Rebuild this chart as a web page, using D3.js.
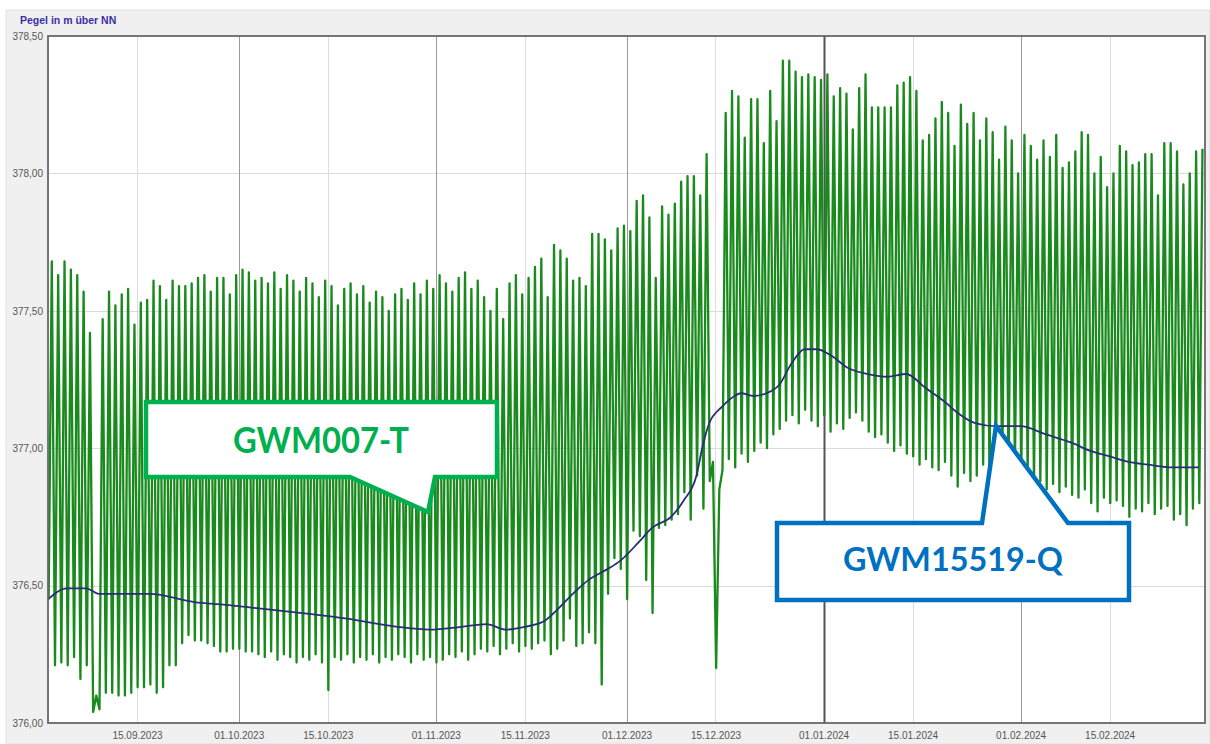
<!DOCTYPE html>
<html>
<head>
<meta charset="utf-8">
<script src="https://cdn.jsdelivr.net/npm/d3@7"></script>
<style>
  body { margin: 0; background: #fff; }
  svg { display: block; }
</style>
</head>
<body>
<svg id="chart" width="1210" height="744"></svg>
<script>
// daily high / low of GWM007-T, from 01.09.2023, one value per day
var greenHigh = [
  377.68, 377.63, 377.68, 377.65, 377.63, 377.57, 377.42, 376.10, 377.47, 377.57,
  377.52, 377.56, 377.58, 377.45, 377.53, 377.54, 377.61, 377.59, 377.54, 377.61,
  377.59, 377.59, 377.60, 377.62, 377.63, 377.57, 377.62, 377.62, 377.56, 377.63,
  377.65, 377.64, 377.61, 377.62, 377.60, 377.64, 377.58, 377.63, 377.61, 377.57,
  377.62, 377.60, 377.55, 377.61, 377.59, 377.52, 377.58, 377.60, 377.56, 377.59,
  377.53, 377.57, 377.55, 377.50, 377.56, 377.58, 377.54, 377.60, 377.56, 377.61,
  377.58, 377.63, 377.60, 377.57, 377.62, 377.64, 377.58, 377.61, 377.55, 377.50,
  377.58, 377.47, 377.60, 377.63, 377.56, 377.62, 377.66, 377.69, 377.55, 377.74,
  377.72, 377.69, 377.61, 377.62, 377.59, 377.78, 377.78, 377.76, 377.72, 377.80,
  377.81, 377.79, 377.90, 377.92, 377.84, 377.62, 377.88, 377.85, 377.89, 377.97,
  377.99, 377.99, 377.92, 378.07, 376.95, 376.85, 378.22, 378.30, 378.28, 378.13,
  378.27, 378.27, 378.11, 378.30, 378.19, 378.41, 378.41, 378.37, 378.35, 378.36,
  378.35, 378.34, 378.36, 378.28, 378.31, 378.29, 378.16, 378.31, 378.36, 378.24,
  378.24, 378.24, 378.24, 378.32, 378.33, 378.35, 378.30, 378.12, 378.14, 378.20,
  378.26, 378.22, 378.10, 378.25, 378.18, 378.22, 378.12, 378.20, 378.15, 378.05,
  378.17, 378.12, 378.00, 378.14, 378.10, 378.05, 378.12, 378.06, 378.14, 378.02,
  378.04, 378.08, 378.15, 378.14, 378.00, 378.06, 377.95, 378.00, 378.10, 378.08,
  378.03, 378.04, 378.07, 378.07, 377.92, 378.11, 378.11, 378.08, 377.96, 378.00,
  378.08, 378.09
];
var greenLow = [
  376.45, 376.21, 376.22, 376.21, 376.24, 376.16, 376.21, 376.04, 376.05, 376.11,
  376.11, 376.10, 376.10, 376.11, 376.13, 376.13, 376.14, 376.11, 376.13, 376.21,
  376.21, 376.29, 376.32, 376.30, 376.30, 376.29, 376.28, 376.26, 376.26, 376.27,
  376.27, 376.26, 376.26, 376.25, 376.24, 376.26, 376.23, 376.25, 376.24, 376.22,
  376.24, 376.23, 376.25, 376.22, 376.12, 376.24, 376.23, 376.25, 376.22, 376.24,
  376.23, 376.25, 376.22, 376.24, 376.23, 376.25, 376.24, 376.22, 376.25, 376.23,
  376.24, 376.22, 376.23, 376.25, 376.24, 376.26, 376.23, 376.25, 376.27, 376.26,
  376.28, 376.25, 376.27, 376.29, 376.26, 376.28, 376.27, 376.29, 376.30, 376.25,
  376.27, 376.30, 376.38, 376.28, 376.29, 376.33, 376.29, 376.14, 376.47, 376.60,
  376.56, 376.45, 376.70, 376.68, 376.52, 376.40, 376.71, 376.72, 376.74, 376.76,
  376.84, 376.74, 376.90, 376.78, 376.88, 376.20, 376.92, 376.96, 376.93, 376.98,
  376.95, 376.99, 377.02, 377.00, 377.05, 377.07, 377.10, 377.12, 377.09, 377.14,
  377.10, 377.08, 377.12, 377.06, 377.09, 377.07, 377.11, 377.13, 377.10, 377.06,
  377.04, 377.05, 377.02, 376.99, 377.01, 376.98, 376.97, 376.94, 376.96, 376.93,
  376.92, 376.95, 376.90, 376.86, 376.91, 376.88, 376.90, 376.94, 376.89, 376.92,
  376.88, 376.90, 376.93, 376.89, 376.90, 376.87, 376.88, 376.85, 376.87, 376.84,
  376.86, 376.83, 376.82, 376.85, 376.80, 376.77, 376.82, 376.80, 376.81, 376.79,
  376.75, 376.78, 376.77, 376.80, 376.76, 376.78, 376.79, 376.74, 376.76, 376.72,
  376.78, 376.80
];

// GWM15519-Q
var blueDates = [
  "01.09.2023", "04.09.2023", "07.09.2023", "09.09.2023", "17.09.2023", "24.09.2023",
  "29.09.2023", "03.10.2023", "11.10.2023", "18.10.2023", "26.10.2023", "31.10.2023",
  "05.11.2023", "09.11.2023", "12.11.2023", "15.11.2023", "18.11.2023", "20.11.2023",
  "23.11.2023", "25.11.2023", "28.11.2023", "30.11.2023", "03.12.2023", "05.12.2023",
  "08.12.2023", "10.12.2023", "12.12.2023", "13.12.2023", "14.12.2023", "16.12.2023",
  "18.12.2023", "19.12.2023", "21.12.2023", "23.12.2023", "25.12.2023", "27.12.2023",
  "29.12.2023", "31.12.2023", "02.01.2024", "05.01.2024", "08.01.2024", "11.01.2024",
  "14.01.2024", "17.01.2024", "20.01.2024", "22.01.2024", "25.01.2024", "28.01.2024",
  "01.02.2024", "05.02.2024", "09.02.2024", "12.02.2024", "15.02.2024", "18.02.2024",
  "21.02.2024", "25.02.2024", "29.02.2024"
];
var blueValues = [
  376.45, 376.49, 376.49, 376.47, 376.47, 376.44,
  376.43, 376.42, 376.40, 376.38, 376.35, 376.34,
  376.35, 376.36, 376.34, 376.35, 376.37, 376.41,
  376.48, 376.52, 376.56, 376.59, 376.66, 376.71,
  376.75, 376.81, 376.90, 377.01, 377.09, 377.15,
  377.19, 377.20, 377.19, 377.20, 377.23, 377.31,
  377.36, 377.36, 377.34, 377.29, 377.27, 377.26,
  377.27, 377.22, 377.17, 377.13, 377.09, 377.08,
  377.08, 377.05, 377.02, 376.99, 376.97, 376.95,
  376.94, 376.93, 376.93
];

var startDate = "01.09.2023";
var endDate = "01.03.2024";
var xTickLabels = ["15.09.2023", "01.10.2023", "15.10.2023", "01.11.2023", "15.11.2023",
  "01.12.2023", "15.12.2023", "01.01.2024", "15.01.2024", "01.02.2024", "15.02.2024"];
var yTicks = [376.00, 376.50, 377.00, 377.50, 378.00, 378.50];

var parseDate = d3.utcParse("%d.%m.%Y");
var fmtDate = d3.utcFormat("%d.%m.%Y");
var DAY = 864e5;

var svg = d3.select("#chart");

var plot = { left: 48, right: 1205, top: 36, bottom: 723 };

var x = d3.scaleUtc()
  .domain([parseDate(startDate), parseDate(endDate)])
  .range([plot.left, plot.right]);

var y = d3.scaleLinear()
  .domain([376, 378.5])
  .range([plot.bottom, plot.top]);

// panel background
svg.append("rect")
  .attr("x", 6).attr("y", 10)
  .attr("width", 1204).attr("height", 734)
  .style("fill", "#f0f0f0")
  .style("stroke", "#e2e2e2");

svg.append("text")
  .attr("x", 20).attr("y", 24)
  .style("font-family", "'Liberation Sans', Arial, sans-serif")
  .style("font-size", "10.5px")
  .style("font-weight", "bold")
  .style("fill", "#3a2fa6")
  .text("Pegel in m über NN");

svg.append("rect")
  .attr("x", plot.left).attr("y", plot.top)
  .attr("width", plot.right - plot.left).attr("height", plot.bottom - plot.top)
  .style("fill", "#fff");

// grid
var grid = svg.append("g");
grid.selectAll(".hgrid")
  .data(yTicks.slice(1, -1))
  .enter().append("line")
  .attr("x1", plot.left).attr("x2", plot.right)
  .attr("y1", function(d) { return Math.round(y(d)) + 0.5; })
  .attr("y2", function(d) { return Math.round(y(d)) + 0.5; })
  .style("stroke", "#dadada")
  .style("stroke-width", 1);

grid.selectAll(".vgrid")
  .data(xTickLabels.map(parseDate))
  .enter().append("line")
  .attr("x1", function(d) { return Math.round(x(d)) + 0.5; })
  .attr("x2", function(d) { return Math.round(x(d)) + 0.5; })
  .attr("y1", plot.top).attr("y2", plot.bottom)
  .style("stroke", function(d) {
    if (d.getUTCMonth() === 0 && d.getUTCDate() === 1) return "#555";
    return d.getUTCDate() === 1 ? "#9a9a9a" : "#dcdcdc";
  })
  .style("stroke-width", function(d) {
    return (d.getUTCMonth() === 0 && d.getUTCDate() === 1) ? 2 : 1;
  });

// green series: one low and one high per day
var greenPts = [];
var t0 = parseDate(startDate).getTime();
greenLow.forEach(function(v, i) {
  greenPts.push([new Date(t0 + (i + 0.1) * DAY), v]);
  greenPts.push([new Date(t0 + (i + 0.6) * DAY), greenHigh[i]]);
});

svg.append("clipPath").attr("id", "clip")
  .append("rect")
  .attr("x", plot.left).attr("y", plot.top)
  .attr("width", plot.right - plot.left).attr("height", plot.bottom - plot.top);

var line = d3.line()
  .x(function(d) { return x(d[0]); })
  .y(function(d) { return y(d[1]); });

svg.append("path")
  .datum(greenPts)
  .attr("clip-path", "url(#clip)")
  .attr("d", line)
  .style("fill", "none")
  .style("stroke", "#198a1c")
  .style("stroke-width", 2.3)
  .style("stroke-linejoin", "round");

var bluePts = blueDates.map(function(d, i) { return [parseDate(d), blueValues[i]]; });
svg.append("path")
  .datum(bluePts)
  .attr("clip-path", "url(#clip)")
  .attr("d", line.curve(d3.curveMonotoneX))
  .style("fill", "none")
  .style("stroke", "#2b2b78")
  .style("stroke-width", 1.8);

// frame
svg.append("rect")
  .attr("x", plot.left).attr("y", plot.top)
  .attr("width", plot.right - plot.left).attr("height", plot.bottom - plot.top)
  .style("fill", "none")
  .style("stroke", "#686868")
  .style("stroke-width", 1.8);

// axes
var yAxis = d3.axisLeft(y)
  .tickValues(yTicks)
  .tickSize(0)
  .tickPadding(4)
  .tickFormat(function(d) { return d3.format(".2f")(d).replace(".", ","); });

var xAxis = d3.axisBottom(x)
  .tickValues(xTickLabels.map(parseDate))
  .tickSize(0)
  .tickPadding(9)
  .tickFormat(fmtDate);

var gy = svg.append("g")
  .attr("transform", "translate(" + (plot.left - 1) + ",0)")
  .call(yAxis);
var gx = svg.append("g")
  .attr("transform", "translate(0," + plot.bottom + ")")
  .call(xAxis);

[gx, gy].forEach(function(g) {
  g.select(".domain").remove();
  g.selectAll("text")
    .style("font-family", "'Liberation Sans', Arial, sans-serif")
    .style("font-size", "10px")
    .style("fill", "#555");
});

// callouts
var callouts = [
  {
    pts: [[146, 402], [497, 402], [497, 477], [435, 477], [428, 512], [350, 477], [146, 477]],
    color: "#00b050", label: "GWM007-T", tx: 321, ty: 453, size: 36, len: 176
  },
  {
    pts: [[777, 523], [982, 523], [996, 426], [1068, 523], [1129, 523], [1129, 600], [777, 600]],
    color: "#0070c0", label: "GWM15519-Q", tx: 953, ty: 571, size: 33, len: 220
  }
];

var co = svg.selectAll(".callout")
  .data(callouts)
  .enter().append("g")
  .attr("class", "callout");

co.append("path")
  .attr("d", function(d) { return "M" + d.pts.join("L") + "Z"; })
  .style("fill", "#fff")
  .style("stroke", function(d) { return d.color; })
  .style("stroke-width", 4.5)
  .style("stroke-linejoin", "miter");

co.append("text")
  .attr("x", function(d) { return d.tx; })
  .attr("y", function(d) { return d.ty; })
  .attr("textLength", function(d) { return d.len; })
  .attr("lengthAdjust", "spacingAndGlyphs")
  .style("text-anchor", "middle")
  .style("font-family", "Lato, 'Open Sans', sans-serif")
  .style("font-weight", "bold")
  .style("font-size", function(d) { return d.size + "px"; })
  .style("fill", function(d) { return d.color; })
  .text(function(d) { return d.label; });
</script>
</body>
</html>
